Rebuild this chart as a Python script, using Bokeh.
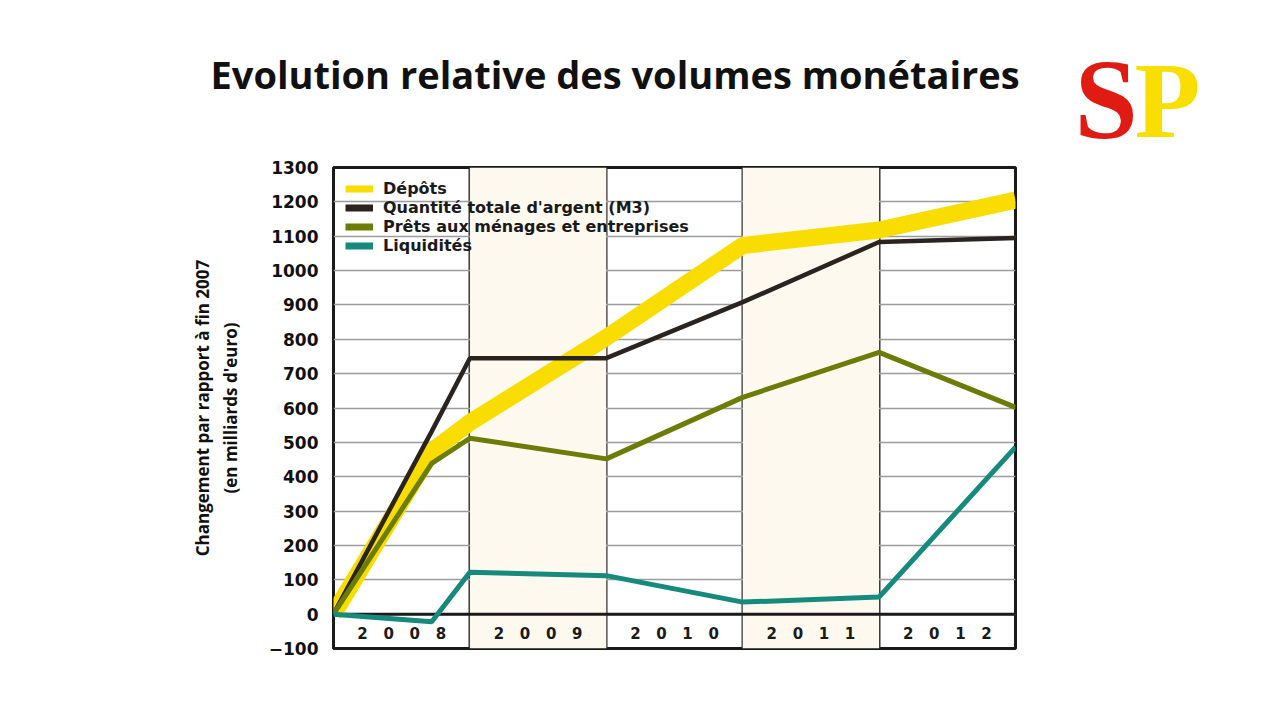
from bokeh.plotting import figure
from bokeh.models import Legend, LegendItem, FixedTicker, ColumnDataSource, Range1d
from bokeh.core.properties import value
from bokeh.embed import file_html
from bokeh.resources import INLINE

# ---- data ----
years = ["2008", "2009", "2010", "2011", "2012"]
# x positions in "years since end of 2007"
x_pts = [0, 0.72, 1, 2, 3, 4, 5]
depots = [0, 474, 558, 805, 1073, 1118, 1205]
m3 = [0, 532, 745, 745, 908, 1083, 1095]
prets = [0, 439, 512, 452, 631, 762, 602]
liquidites = [0, -22, 122, 112, 35, 50, 486]
series_names = ["Dépôts", "Quantité totale d'argent (M3)",
                "Prêts aux ménages et entreprises", "Liquidités"]
y_ticks = list(range(-100, 1301, 100))
shaded_years = [1, 3]  # index of 2009 and 2011
title_text = "Evolution relative des volumes monétaires"
ylabel_text = "Changement par rapport à fin 2007\n(en milliards d'euro)"
logo_letters = ["S", "P"]

YELLOW = "#f9dc00"
BLACK = "#2a2320"
OLIVE = "#6b7c07"
TEAL = "#168a7c"
FONT = "DejaVu Sans"
NB = "\u00a0"

# ---------- header (title + logo), separate root so it is not frame-aligned ----------
h = figure(width=1279, height=150, output_backend="svg", toolbar_location=None,
           x_range=Range1d(0, 1279), y_range=Range1d(150, 0),
           x_axis_type=None, y_axis_type=None, min_border=0)
h.outline_line_color = None
h.text(x=[210], y=[73], text=[title_text], text_align="left", text_baseline="middle",
       text_font=value("Open Sans"), text_font_style="bold", text_font_size="38px",
       text_color="#111111")
h.text(x=[1074, 1134], y=[99, 100], text=logo_letters, text_align="left", text_baseline="middle",
       text_font=value("Liberation Serif"), text_font_style="bold",
       text_font_size=["114px", "108px"], text_color=["#e01b14", "#f8df00"])

# ---------- main chart ----------
p = figure(width=1279, height=570, output_backend="svg", toolbar_location=None,
           x_range=Range1d(0, 5), y_range=Range1d(-100, 1300),
           min_border_left=333, min_border_right=264, min_border_top=17,
           min_border_bottom=72)
p.outline_line_color = "#1a1a1a"
p.outline_line_width = 3

# shaded bands (2009, 2011)
p.quad(left=[shaded_years[0], shaded_years[1]], right=[shaded_years[0] + 1, shaded_years[1] + 1],
       bottom=[-100, -100], top=[1300, 1300], fill_color="#fdf9ef", line_color=None)

# x axis kept but hidden by styling (its ticks drive the year separators)
xa = p.xaxis[0]
xa.ticker = FixedTicker(ticks=[1, 2, 3, 4])
xa.axis_line_color = None
xa.major_tick_line_color = None
xa.minor_tick_line_color = None
xa.major_label_text_color = None

# grids
p.xgrid.grid_line_color = "#2a2a2a"
p.xgrid.grid_line_width = 2
p.ygrid.grid_line_color = "#9c9c9c"
p.ygrid.grid_line_width = 1.6

# zero line
p.segment(x0=[0], y0=[0], x1=[5], y1=[0], line_color="#1a1a1a", line_width=3)

# y axis
ya = p.yaxis[0]
ya.ticker = FixedTicker(ticks=y_ticks)
ya.axis_line_color = None
ya.major_tick_line_color = None
ya.minor_tick_line_color = None
ya.major_label_standoff = 9
ya.major_label_text_font = FONT
ya.major_label_text_font_style = "bold"
ya.major_label_text_font_size = "17px"
ya.major_label_text_color = "#111111"
ya.axis_label = ylabel_text
ya.axis_label_text_font = "Open Sans"
ya.axis_label_text_font_style = "bold"
ya.axis_label_text_font_size = "17px"
ya.axis_label_text_color = "#111111"
ya.axis_label_standoff = 24

# series
p.line(x_pts, depots, line_color=YELLOW, line_width=17)
p.line(x_pts, m3, line_color=BLACK, line_width=4.5)
p.line(x_pts, prets, line_color=OLIVE, line_width=5)
p.line(x_pts, liquidites, line_color=TEAL, line_width=5)

# year labels in bottom band
src = ColumnDataSource(dict(x=[i + 0.5 for i in range(len(years))], y=[-58] * len(years),
                            t=[(NB * 3).join(list(y)) for y in years]))
p.text(x="x", y="y", text="t", source=src, text_align="center", text_baseline="middle",
       text_font=value(FONT), text_font_style="bold", text_font_size="15px", text_color="#1a1a1a")

# legend (dummy renderers for swatches)
colors = [YELLOW, BLACK, OLIVE, TEAL]
items = []
for name, c in zip(series_names, colors):
    r = p.line([-10, -9], [-500, -500], line_color=c, line_width=7)
    items.append(LegendItem(label=name, renderers=[r]))
leg = Legend(items=items, location="top_left", margin=4, padding=8,
             background_fill_alpha=0, border_line_alpha=0, spacing=0,
             label_height=19, glyph_height=19, glyph_width=28, label_standoff=10,
             label_text_font=FONT, label_text_font_style="bold",
             label_text_font_size="16px", label_text_color="#1a1a1a")
p.add_layout(leg)

open("out.html", "w").write(file_html([h, p], INLINE))
